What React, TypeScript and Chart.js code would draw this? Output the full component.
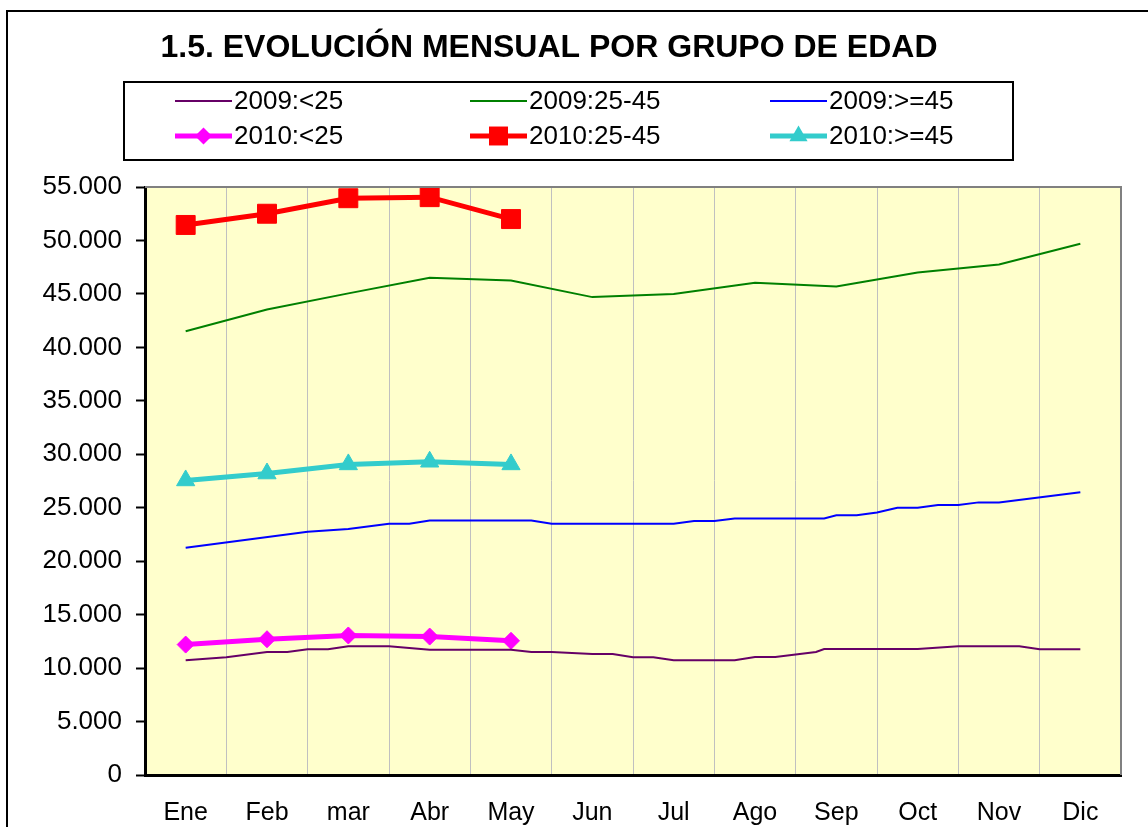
import React, { useEffect, useRef } from "react";
import { Chart, registerables } from "chart.js";

Chart.register(...registerables);

const TITLE = "1.5. EVOLUCIÓN MENSUAL POR GRUPO DE EDAD";
const months = ["Ene", "Feb", "mar", "Abr", "May", "Jun", "Jul", "Ago", "Sep", "Oct", "Nov", "Dic"];

// 2009 series: positions (month index, fractional where the line bends) and values
const pos2009Lt25 = [0, 0.5, 1, 1.25, 1.5, 1.75, 2, 2.5, 3, 4, 4.25, 4.5, 5, 5.25, 5.5, 5.75, 6, 6.75, 7, 7.25, 7.75, 7.85, 9, 9.5, 10.25, 10.5, 11];
const val2009Lt25 = [10730, 11010, 11500, 11500, 11760, 11760, 12040, 12040, 11720, 11720, 11500, 11500, 11320, 11320, 11010, 11010, 10730, 10730, 11040, 11040, 11500, 11790, 11790, 12040, 12040, 11760, 11760];

const pos2009Mid = [0, 1, 2, 3, 4, 5, 6, 7, 8, 9, 10, 11];
const val2009Mid = [41500, 43550, 45050, 46500, 46250, 44700, 45000, 46050, 45700, 47000, 47750, 49700];

const pos2009Ge45 = [0, 1.5, 2, 2.5, 2.75, 3, 4.25, 4.5, 6, 6.25, 6.5, 6.75, 7.85, 8, 8.25, 8.5, 8.75, 9, 9.25, 9.5, 9.75, 10, 11];
const val2009Ge45 = [21250, 22750, 23000, 23500, 23500, 23800, 23800, 23500, 23500, 23750, 23750, 24000, 24000, 24300, 24300, 24550, 25000, 25000, 25250, 25250, 25500, 25500, 26450];

// 2010 series (Ene..May)
const val2010Lt25 = [12200, 12700, 13050, 12950, 12550];
const val2010Mid = [51450, 52500, 53950, 54050, 52000];
const val2010Ge45 = [27550, 28200, 29050, 29300, 29050];

const yMin = 0;
const yMax = 55000;
const yStep = 5000;

const FONT = '"Liberation Sans", Arial, sans-serif';

const toXY = (p: number[], v: number[]) => p.map((x, i) => ({ x, y: v[i] }));
const fmt = (v: number) => String(v).replace(/\B(?=(\d{3})+(?!\d))/g, ".");

function drawMarker(ctx: CanvasRenderingContext2D, style: string, x: number, y: number, r: number, color: string) {
  ctx.save();
  ctx.fillStyle = color;
  ctx.beginPath();
  if (style === "rectRot") {
    ctx.moveTo(x, y - r);
    ctx.lineTo(x + r, y);
    ctx.lineTo(x, y + r);
    ctx.lineTo(x - r, y);
  } else if (style === "rect") {
    const s = r * Math.SQRT1_2;
    ctx.rect(x - s, y - s, 2 * s, 2 * s);
  } else if (style === "triangle") {
    ctx.moveTo(x, y - r);
    ctx.lineTo(x + r * Math.sin((2 * Math.PI) / 3), y + r * 0.5);
    ctx.lineTo(x - r * Math.sin((2 * Math.PI) / 3), y + r * 0.5);
  }
  ctx.closePath();
  ctx.fill();
  ctx.restore();
}

const framePlugin = {
  id: "frame",
  beforeDraw(chart: any) {
    const { ctx, chartArea } = chart;
    ctx.save();
    ctx.fillStyle = "#FFFFFF";
    ctx.fillRect(0, 0, chart.width, chart.height);
    ctx.fillStyle = "#FFFFCC";
    ctx.fillRect(chartArea.left, chartArea.top, chartArea.right - chartArea.left, chartArea.bottom - chartArea.top);
    ctx.restore();
  },
  afterDraw(chart: any) {
    const { ctx, chartArea } = chart;
    ctx.save();
    // plot area top/right border
    ctx.strokeStyle = "#808080";
    ctx.lineWidth = 2;
    ctx.beginPath();
    ctx.moveTo(chartArea.left, chartArea.top);
    ctx.lineTo(chartArea.right, chartArea.top);
    ctx.lineTo(chartArea.right, chartArea.bottom);
    ctx.stroke();

    // outer border
    ctx.strokeStyle = "#000000";
    ctx.lineWidth = 2;
    ctx.strokeRect(7, 11, chart.width + 50, chart.height + 50);

    // title
    ctx.fillStyle = "#000000";
    ctx.font = `bold 32px ${FONT}`;
    ctx.textAlign = "center";
    ctx.textBaseline = "alphabetic";
    ctx.fillText(TITLE, 549, 57);

    // legend box
    ctx.lineWidth = 2;
    ctx.strokeRect(124, 82, 889, 78);

    const colX = [175, 470, 770];
    const rowY = [101, 136];
    const ds = chart.data.datasets;
    ds.forEach((d: any, i: number) => {
      const col = i % 3;
      const row = Math.floor(i / 3);
      const x0 = colX[col];
      const y = rowY[row];
      ctx.strokeStyle = d.borderColor;
      ctx.lineWidth = d.borderWidth;
      ctx.beginPath();
      ctx.moveTo(x0, y);
      ctx.lineTo(x0 + 57, y);
      ctx.stroke();
      if (d.pointRadius > 0) {
        drawMarker(ctx, d.pointStyle, x0 + 28.5, y, d.pointRadius, d.pointBackgroundColor);
      }
      ctx.fillStyle = "#000000";
      ctx.font = `26px ${FONT}`;
      ctx.textAlign = "left";
      ctx.textBaseline = "middle";
      ctx.fillText(d.label, x0 + 59, y + 1);
    });
    ctx.restore();
  },
};

export default function App() {
  const ref = useRef<HTMLCanvasElement | null>(null);

  useEffect(() => {
    if (!ref.current) return;
    const chart = new Chart(ref.current, {
      type: "line",
      data: {
        labels: months,
        datasets: [
          {
            label: "2009:<25",
            data: toXY(pos2009Lt25, val2009Lt25) as any,
            xAxisID: "x2",
            borderColor: "#660066",
            backgroundColor: "#660066",
            borderWidth: 2,
            pointRadius: 0,
            tension: 0,
          },
          {
            label: "2009:25-45",
            data: toXY(pos2009Mid, val2009Mid) as any,
            xAxisID: "x2",
            borderColor: "#008000",
            backgroundColor: "#008000",
            borderWidth: 2,
            pointRadius: 0,
            tension: 0,
          },
          {
            label: "2009:>=45",
            data: toXY(pos2009Ge45, val2009Ge45) as any,
            xAxisID: "x2",
            borderColor: "#0000FF",
            backgroundColor: "#0000FF",
            borderWidth: 2,
            pointRadius: 0,
            tension: 0,
          },
          {
            label: "2010:<25",
            data: val2010Lt25,
            xAxisID: "x",
            borderColor: "#FF00FF",
            backgroundColor: "#FF00FF",
            borderWidth: 5,
            pointStyle: "rectRot",
            pointRadius: 8.5,
            pointBackgroundColor: "#FF00FF",
            pointBorderColor: "#FF00FF",
            pointBorderWidth: 1,
            tension: 0,
          },
          {
            label: "2010:25-45",
            data: val2010Mid,
            xAxisID: "x",
            borderColor: "#FF0000",
            backgroundColor: "#FF0000",
            borderWidth: 5,
            pointStyle: "rect",
            pointRadius: 13.4,
            pointBackgroundColor: "#FF0000",
            pointBorderColor: "#FF0000",
            pointBorderWidth: 1,
            tension: 0,
          },
          {
            label: "2010:>=45",
            data: val2010Ge45,
            xAxisID: "x",
            borderColor: "#33CCCC",
            backgroundColor: "#33CCCC",
            borderWidth: 5,
            pointStyle: "triangle",
            pointRadius: 10.5,
            pointBackgroundColor: "#33CCCC",
            pointBorderColor: "#33CCCC",
            pointBorderWidth: 1,
            tension: 0,
          },
        ] as any,
      },
      options: {
        responsive: false,
        animation: false,
        devicePixelRatio: 1,
        layout: { padding: { top: 187, right: 27, bottom: 0, left: 0 } },
        plugins: {
          legend: { display: false },
          title: { display: false },
          tooltip: { enabled: false },
        },
        scales: {
          x: {
            type: "category",
            position: "bottom",
            offset: true,
            grid: {
              offset: true,
              color: "#C0C0C0",
              lineWidth: 1,
              drawTicks: false,
              drawOnChartArea: true,
            },
            border: { color: "#000000", width: 3 },
            ticks: {
              color: "#000000",
              font: { family: FONT, size: 25 },
              padding: 23,
              maxRotation: 0,
              autoSkip: false,
            },
            afterFit: (scale: any) => {
              scale.height = 52;
            },
          },
          x2: {
            type: "linear",
            position: "bottom",
            display: false,
            min: -0.5,
            max: 11.5,
          },
          y: {
            type: "linear",
            min: yMin,
            max: yMax,
            ticks: {
              stepSize: yStep,
              color: "#000000",
              font: { family: FONT, size: 26 },
              padding: 14,
              callback: (v: any) => fmt(Number(v)),
            },
            grid: {
              drawOnChartArea: false,
              drawTicks: true,
              tickLength: 9,
              color: "#000000",
              tickColor: "#000000",
              tickWidth: 2,
            },
            border: { color: "#000000", width: 3 },
            afterFit: (scale: any) => {
              scale.width = 145;
            },
          },
        },
      } as any,
      plugins: [framePlugin],
    });
    return () => chart.destroy();
  }, []);

  return (
    <div
      style={{
        position: "fixed",
        left: 0,
        top: 0,
        width: 1148,
        height: 827,
        overflow: "hidden",
        background: "#FFFFFF",
      }}
    >
      <canvas ref={ref} width={1148} height={827} style={{ display: "block", width: 1148, height: 827 }} />
    </div>
  );
}
